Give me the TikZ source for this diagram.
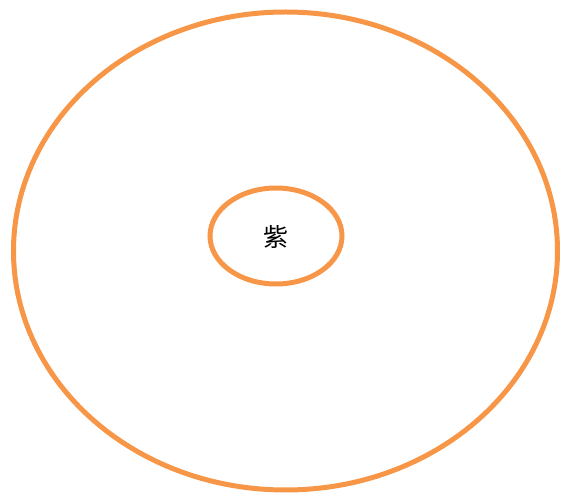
\documentclass[tikz,border=0pt]{standalone}
\usepackage{fontspec}
\newfontfamily\cjk{Noto Sans CJK SC}
\definecolor{ringorange}{HTML}{F79646}
\begin{document}
\begin{tikzpicture}[x=1pt,y=-1pt,
  ring/.style={draw=ringorange,line width=5pt},
  charlabel/.style={font=\cjk\fontsize{25}{30}\selectfont,text=black,inner sep=0pt}]
\useasboundingbox (0,0) rectangle (571,494);
\draw[ring] (285.5,251) ellipse [x radius=272,y radius=239];
\draw[ring] (276,236) ellipse [x radius=66,y radius=48];
\node[charlabel] (t) at (276,237) {紫};
\end{tikzpicture}
\end{document}
